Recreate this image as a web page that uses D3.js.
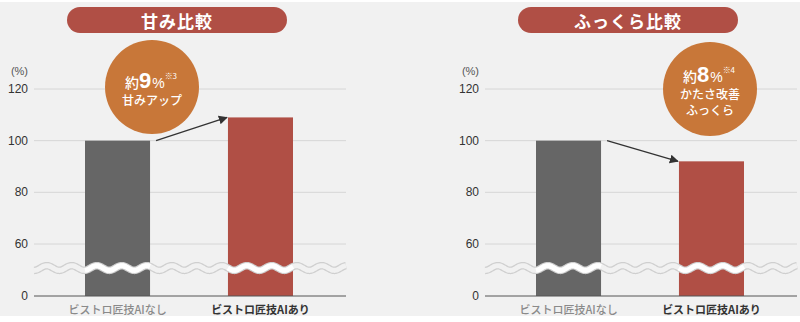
<!DOCTYPE html>
<html>
<head>
<meta charset="utf-8">
<script src="https://cdn.jsdelivr.net/npm/d3@7"></script>
<style>
  body { margin: 0; background: #fff; }
  svg { display: block; font-family: "Noto Sans CJK JP", "Noto Sans", sans-serif; }
</style>
</head>
<body>
<div id="chart"></div>
<script>
// chart data
const categories = ['ビストロ匠技AIなし', 'ビストロ匠技AIあり'];
const sweetValues = [100, 109];
const fluffyValues = [100, 92];
const tickValues = [0, 60, 80, 100, 120];
const panelTitles = ['甘み比較', 'ふっくら比較'];
const badgeValues = ['9', '8'];
const badgeNotes = ['※3', '※4'];
const badgeLines = [['甘みアップ'], ['かたさ改善', 'ふっくら']];

const width = 800;
const height = 322;
const numFont = '"Liberation Sans", Arial, sans-serif';

const svg = d3.select('#chart').append('svg')
  .attr('width', width)
  .attr('height', height);

svg.append('rect')
  .attr('x', 0).attr('y', 2)
  .attr('width', width).attr('height', 314)
  .attr('fill', '#f1f1f1');

// arrow head
svg.append('defs').append('marker')
  .attr('id', 'arrowHead')
  .attr('viewBox', '0 0 10 10')
  .attr('refX', 9).attr('refY', 5)
  .attr('markerWidth', 9).attr('markerHeight', 9)
  .attr('markerUnits', 'userSpaceOnUse')
  .attr('orient', 'auto')
  .append('path')
  .attr('d', 'M0,0 L10,5 L0,10 Z')
  .attr('fill', '#333');

// broken axis: 0..60 squeezed, 60..120 linear
const y = d3.scaleLinear().domain([0, 60, 120]).range([296, 244, 89]);

// builds a wavy line between x0 and x1 around yc
function wavePath(x0, x1, yc) {
  let pts = [];
  for (let x = x0; x <= x1; x += 1) {
    pts.push([x, yc + 2.4 * Math.sin((x - 3) / 25 * 2 * Math.PI)]);
  }
  return d3.line().curve(d3.curveBasis)(pts);
}

function drawPanel(offset, idx, values) {
  let g = svg.append('g').attr('transform', 'translate(' + offset + ',0)');
  let gridLeft = 34;
  let gridRight = 346;

  let x = d3.scaleBand().domain(categories).range([85, 293]).paddingInner(0.545).paddingOuter(0);

  // title pill
  g.append('rect')
    .attr('x', 67).attr('y', 7)
    .attr('width', 220).attr('height', 26)
    .attr('rx', 13)
    .attr('fill', '#b04f45');
  g.append('text')
    .attr('x', 177).attr('y', 20)
    .attr('text-anchor', 'middle')
    .attr('dominant-baseline', 'central')
    .attr('fill', '#fff')
    .style('font-size', '17px')
    .style('font-weight', 'bold')
    .style('letter-spacing', '1px')
    .text(panelTitles[idx]);

  // gridlines
  g.selectAll('line.grid')
    .data(tickValues.filter(d => d > 0))
    .enter().append('line')
    .attr('class', 'grid')
    .attr('x1', gridLeft).attr('x2', gridRight)
    .attr('y1', d => y(d)).attr('y2', d => y(d))
    .attr('stroke', '#d6d6d6')
    .attr('stroke-width', 1);

  // tick labels
  g.selectAll('text.tick')
    .data(tickValues)
    .enter().append('text')
    .attr('class', 'tick')
    .attr('x', 28)
    .attr('y', d => y(d))
    .attr('text-anchor', 'end')
    .attr('dominant-baseline', 'central')
    .attr('fill', '#333')
    .style('font-family', numFont)
    .style('font-size', '12px')
    .text(d => d);

  g.append('text')
    .attr('x', 28).attr('y', 71)
    .attr('text-anchor', 'end')
    .attr('dominant-baseline', 'central')
    .attr('fill', '#555')
    .style('font-family', numFont)
    .style('font-size', '11px')
    .text('(%)');

  // bars
  g.selectAll('rect.bar')
    .data(values)
    .enter().append('rect')
    .attr('class', 'bar')
    .attr('x', (d, i) => x(categories[i]))
    .attr('y', d => y(d))
    .attr('width', x.bandwidth())
    .attr('height', d => y(0) - y(d))
    .attr('fill', (d, i) => i === 0 ? '#666666' : '#b04f45');

  // break mark
  let yBreak = (y(0) + y(60)) / 2 - 2;
  g.append('path')
    .attr('d', wavePath(gridLeft, gridRight, yBreak))
    .attr('fill', 'none').attr('stroke', '#cfcfcf').attr('stroke-width', 7.5);
  g.append('path')
    .attr('d', wavePath(gridLeft, gridRight, yBreak))
    .attr('fill', 'none').attr('stroke', '#f1f1f1').attr('stroke-width', 5);
  categories.forEach(function(c) {
    g.append('path')
      .attr('d', wavePath(x(c), x(c) + x.bandwidth(), yBreak))
      .attr('fill', 'none').attr('stroke', '#fff').attr('stroke-width', 5);
  });

  // baseline
  g.append('line')
    .attr('x1', gridLeft).attr('x2', gridRight)
    .attr('y1', y(0)).attr('y2', y(0))
    .attr('stroke', '#555').attr('stroke-width', 1);

  // category labels
  g.selectAll('text.cat')
    .data(categories)
    .enter().append('text')
    .attr('class', 'cat')
    .attr('x', d => x(d) + x.bandwidth() / 2)
    .attr('y', 309)
    .attr('text-anchor', 'middle')
    .attr('dominant-baseline', 'central')
    .attr('fill', (d, i) => i === 0 ? '#8a8a8a' : '#333')
    .style('font-size', '11px')
    .style('font-weight', (d, i) => i === 0 ? '500' : 'bold')
    .text(d => d);

  // arrow between bars
  g.append('line')
    .attr('x1', x(categories[0]) + x.bandwidth() + 6)
    .attr('y1', y(values[0]))
    .attr('x2', x(categories[1]) - 1)
    .attr('y2', y(values[1]))
    .attr('stroke', '#333')
    .attr('stroke-width', 1.3)
    .attr('marker-end', 'url(#arrowHead)');

  // badge
  let cx = idx === 0 ? 152 : 259;
  let cy = idx === 0 ? 87 : 89;
  g.append('circle')
    .attr('cx', cx).attr('cy', cy).attr('r', 47)
    .attr('fill', '#c87739');

  let lines = badgeLines[idx];
  let firstY = idx === 0 ? cy + 1 : cy - 7;
  let head = g.append('text')
    .attr('x', cx - 1).attr('y', firstY)
    .attr('text-anchor', 'middle')
    .attr('fill', '#fff')
    .style('font-weight', '500');
  head.append('tspan').style('font-size', '14px').text('約');
  head.append('tspan').style('font-size', '22px').style('font-weight', 'bold')
    .style('font-family', numFont).text(badgeValues[idx]);
  head.append('tspan').style('font-size', '14px').style('font-family', numFont)
    .attr('dx', 1).text('%');
  head.append('tspan').style('font-size', '8px').style('font-weight', 'normal')
    .attr('dy', -9).text(badgeNotes[idx]);

  lines.forEach(function(t, i) {
    g.append('text')
      .attr('x', cx).attr('y', firstY + 17 + i * 16)
      .attr('text-anchor', 'middle')
      .attr('fill', '#fff')
      .style('font-size', '12px')
      .style('font-weight', '500')
      .text(t);
  });
}

drawPanel(0, 0, sweetValues);
drawPanel(451, 1, fluffyValues);
</script>
</body>
</html>
